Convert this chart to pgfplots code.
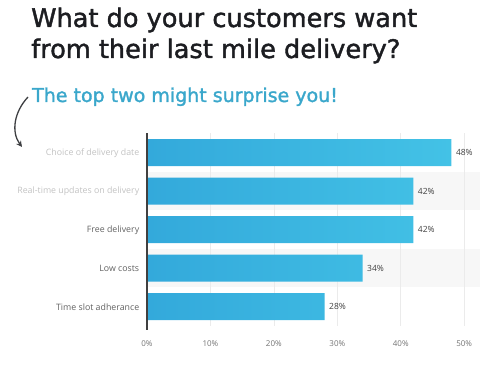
\documentclass[border=0pt]{standalone}
\usepackage{pgfplots}
\pgfplotsset{compat=1.18}
\usepackage{fontspec}
\setmainfont{Open Sans}
\newfontfamily\titlefont[FakeBold=1.6]{DejaVu Sans}
\usetikzlibrary{arrows.meta}
\definecolor{barL}{HTML}{33A9DB}
\definecolor{barR}{HTML}{43C2E6}
\definecolor{subt}{HTML}{3AA7CB}
\definecolor{ttl}{HTML}{1C1D21}
\definecolor{band}{HTML}{F7F7F7}
\definecolor{gridc}{HTML}{EBEBEB}
\begin{document}
\begin{tikzpicture}
\begin{scope}[x=1pt,y=1pt]
\path[use as bounding box] (0,0) rectangle (500,366);
\node[anchor=base west,inner sep=0pt,text=ttl,font=\titlefont\fontsize{25.6}{30}\selectfont] at (31,339) {What do your customers want};
\node[anchor=base west,inner sep=0pt,text=ttl,font=\titlefont\fontsize{25.6}{30}\selectfont] at (31,308) {from their last mile delivery?};
\node[anchor=base west,inner sep=0pt,text=subt,font=\titlefont\fontsize{19}{24}\selectfont] at (32,264) {The top two might surprise you!};
\draw[line width=1.3pt,color=ttl!85,-{Stealth[length=6pt,width=6pt]}] (28,269) .. controls (14,254) and (11,234) .. (22,219);
\end{scope}
\begin{axis}[
  set layers,
  at={(147pt,40pt)}, anchor=south west,
  scale only axis, width=333pt, height=192.5pt,
  xbar, bar width=27pt,
  xmin=0, xmax=52.5, ymin=-0.5, ymax=4.5,
  y dir=reverse,
  ytick={0,1,2,3,4},
  yticklabels={{\color{black!24}Choice of delivery date},{\color{black!24}Real-time updates on delivery},Free delivery,Low costs,Time slot adherance},
  yticklabel style={font=\fontsize{8.8}{10}\selectfont, text=black!62},
  xtick={0,10,20,30,40,50},
  xticklabel={\pgfmathprintnumber{\tick}\%},
  /pgf/number format/assume math mode=true,
  xticklabel style={font=\fontsize{8}{9}\selectfont, text=black!55, yshift=-11pt},
  xmajorgrids, major grid style={gridc, line width=0.6pt},
  tick style={draw=none},
  axis line style={draw=none},
  nodes near coords={\pgfmathprintnumber{\pgfplotspointmeta}\%},
  nodes near coords style={font=\fontsize{8.5}{10}\selectfont, text=black!75, anchor=west, xshift=1pt},
  point meta=x,
  clip=false,
]
\begin{pgfonlayer}{axis background}
\fill[band] (axis cs:0,0.5) rectangle (axis cs:52.5,1.5);
\fill[band] (axis cs:0,2.5) rectangle (axis cs:52.5,3.5);
\end{pgfonlayer}
\addplot[draw=none, left color=barL, right color=barR] coordinates {(48,0) (42,1) (42,2) (34,3) (28,4)};
\draw[line width=1.2pt, color=black!75] (axis cs:0,-0.5) -- (axis cs:0,4.6);
\end{axis}
\end{tikzpicture}
\end{document}
